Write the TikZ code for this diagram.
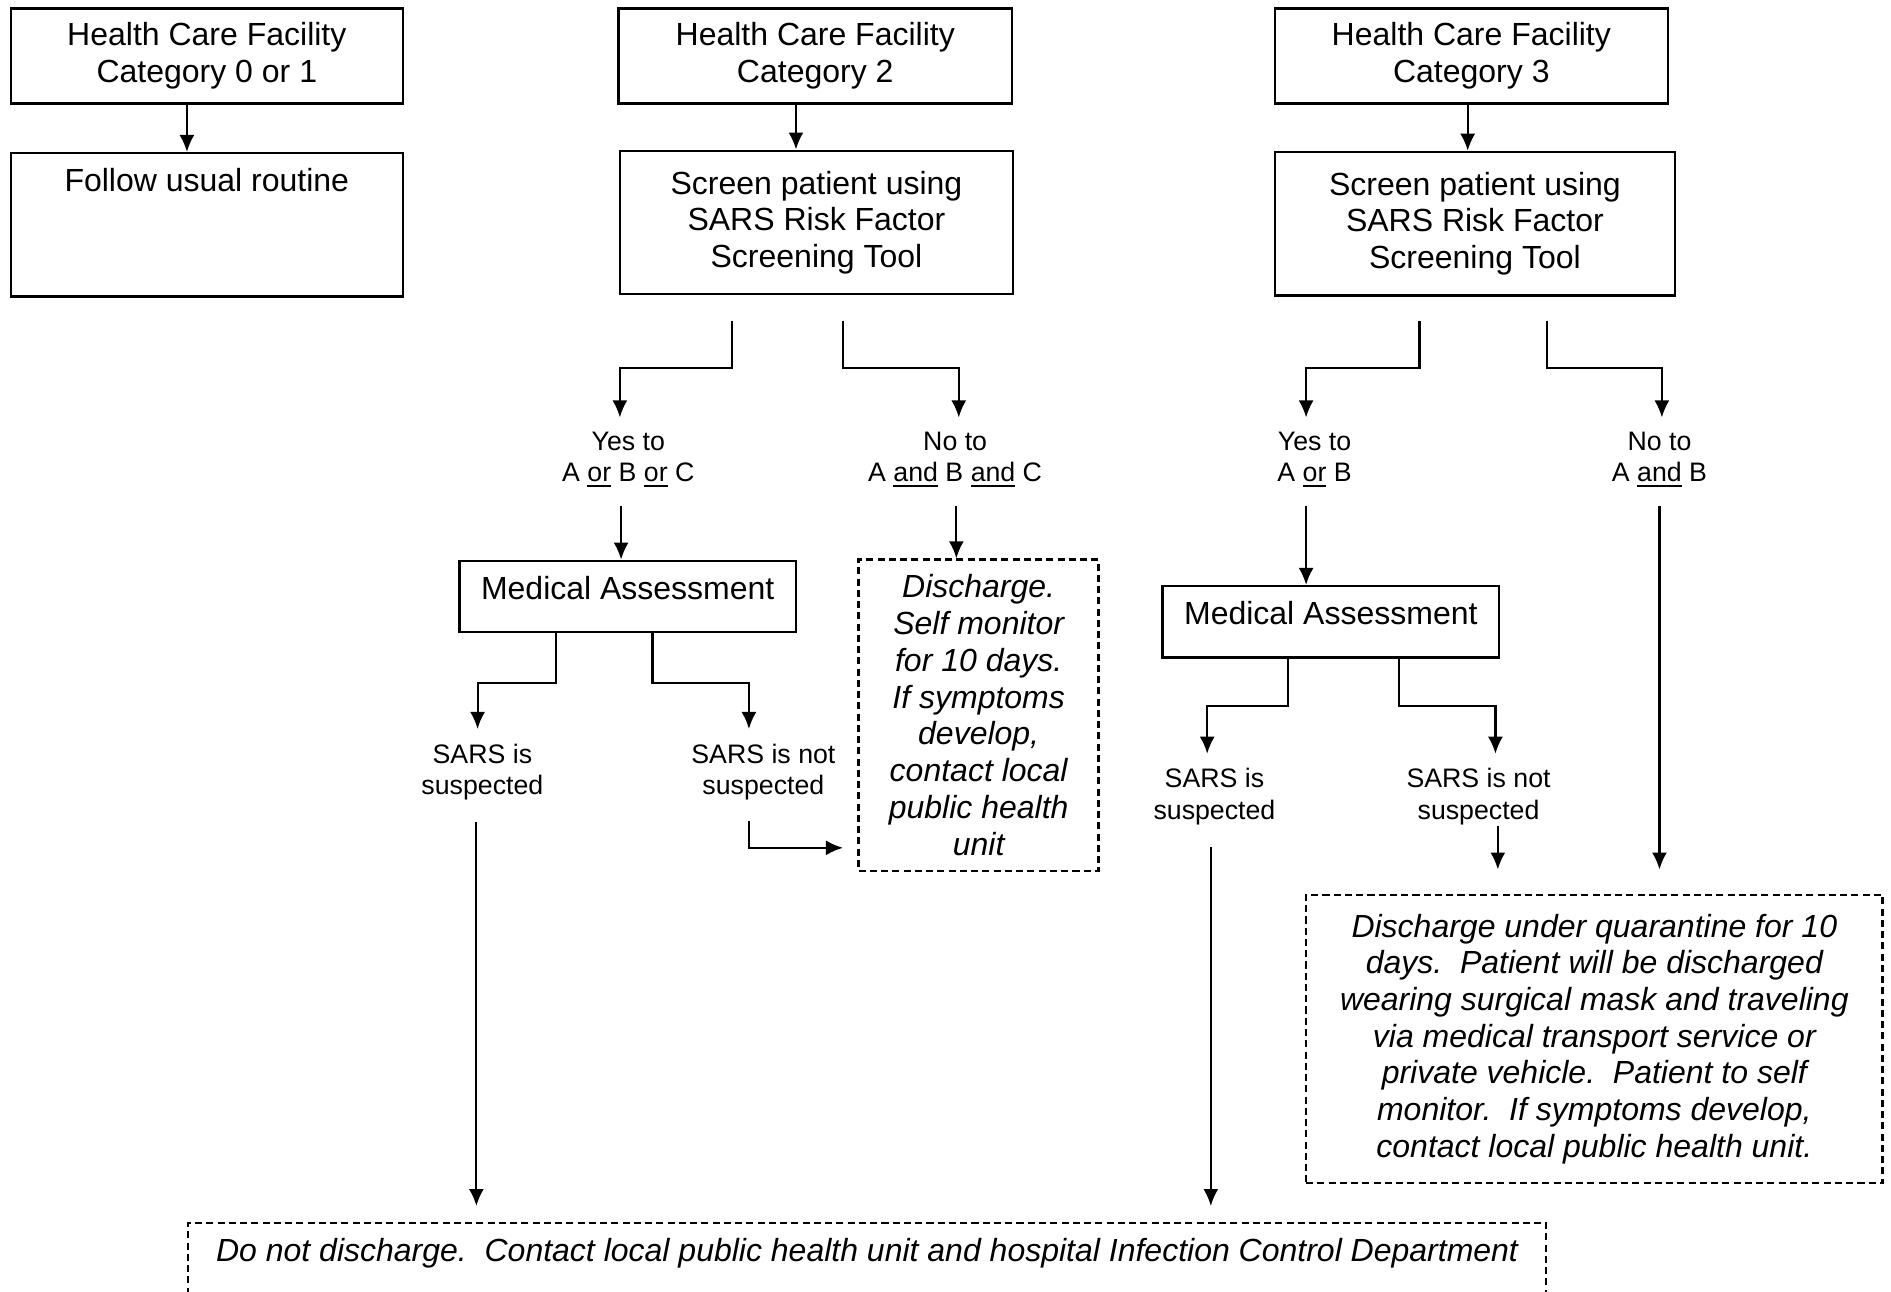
\documentclass[tikz,border=0pt]{standalone}
\usepackage{fontspec}
\setmainfont{Liberation Sans}
\usetikzlibrary{arrows.meta}
\newcommand{\px}{0.012061cm}
\newcommand{\undl}[1]{\setbox0\hbox{#1}\rlap{\vrule height -0.9pt depth 1.4pt width\wd0}\box0\relax}

\begin{document}
\begin{tikzpicture}[x=\px, y=-\px,
    box/.style={draw, line width=0.7pt, align=center, inner sep=3pt, font=\fontsize{9.1}{10.45}\selectfont},
    topbox/.style={box, text height=8pt},
    dbox/.style={box, dash pattern=on 2pt off 1.2pt, font=\fontsize{9.1}{10.45}\selectfont\itshape},
    lbl/.style={align=center, inner xsep=2pt, inner ysep=4pt, font=\fontsize{7.6}{8.9}\selectfont},
    arr/.style={-{Latex[length=1.7mm,width=1.5mm]}, line width=0.6pt}]
    \useasboundingbox (0,0) rectangle (1568,1071);

    % Category 0 or 1
    \node[box, minimum width=325*\px, minimum height=79*\px] (cat01) at (171.5,46.5) {Health Care Facility\\Category 0 or 1};
    \node[topbox, text depth=26.8pt, anchor=north, minimum width=325*\px] (follow) at (171.5,126) {Follow usual routine};
    \draw[arr] ([shift={(-16.5,0)}]cat01.south) -- ([shift={(-16.5,0)}]follow.north);

    % Category 2
    \node[box, minimum width=326*\px, minimum height=79*\px] (cat2) at (676,46.5) {Health Care Facility\\Category 2};
    \node[box, minimum width=326*\px, minimum height=119*\px] (screen2) at (677,184.5) {Screen patient using\\SARS Risk Factor\\Screening Tool};
    \node[lbl] (yes2) at (521,381) {Yes to\\A \undl{or} B \undl{or} C};
    \node[lbl] (no2) at (792,381) {No to\\A \undl{and} B \undl{and} C};
    \node[topbox, text depth=6.3pt, anchor=north, minimum width=279*\px] (med2) at (520.5,464) {Medical Assessment};
    \node[dbox, minimum width=199*\px, minimum height=258*\px] (disc2) at (811.5,593) {Discharge.\\Self monitor\\for 10 days.\\If symptoms\\develop,\\contact local\\public health\\unit};
    \node[lbl] (sus2) at (400,640) {SARS is\\suspected};
    \node[lbl] (notsus2) at (633,640) {SARS is not\\suspected};

    \draw[arr] ([shift={(-16,0)}]cat2.south) -- ([shift={(-17,0)}]screen2.north);
    \draw[arr] ([shift={(-70,21)}]screen2.south) -- ++(0,39) -| ([shift={(-7,0)}]yes2.north);
    \draw[arr] ([shift={(22,21)}]screen2.south) -- ++(0,39) -| ([shift={(3,0)}]no2.north);
    \draw[arr] ([shift={(-6,4)}]yes2.south) -- ([shift={(-5.5,0)}]med2.north);
    \draw[arr] ([shift={(1,4)}]no2.south) -- ([shift={(-18.5,0)}]disc2.north);
    \draw[arr] ([shift={(-59.5,0)}]med2.south) -- ++(0,41) -| ([shift={(-4,0)}]sus2.north);
    \draw[arr] ([shift={(20.5,0)}]med2.south) -- ++(0,41) -| ([shift={(-12,0)}]notsus2.north);
    \draw[arr] ([shift={(-12,5)}]notsus2.south) |- ([shift={(-12,110)}]disc2.west);

    % Category 3
    \node[box, minimum width=326*\px, minimum height=79*\px] (cat3) at (1220,46.5) {Health Care Facility\\Category 3};
    \node[box, minimum width=332*\px, minimum height=119*\px] (screen3) at (1223,185.5) {Screen patient using\\SARS Risk Factor\\Screening Tool};
    \node[lbl] (yes3) at (1090,381) {Yes to\\A \undl{or} B};
    \node[lbl] (no3) at (1376,381) {No to\\A \undl{and} B};
    \node[topbox, text depth=6.3pt, anchor=north, minimum width=279*\px] (med3) at (1103.5,485) {Medical Assessment};
    \node[lbl] (sus3) at (1007,660.5) {SARS is\\suspected};
    \node[lbl] (notsus3) at (1226,660.5) {SARS is not\\suspected};
    \node[dbox, minimum width=478*\px, minimum height=239*\px] (disc3) at (1322,861.5) {Discharge under quarantine for 10\\days.\ \ Patient will be discharged\\wearing surgical mask and traveling\\via medical transport service or\\private vehicle.\ \ Patient to self\\monitor.\ \ If symptoms develop,\\contact local public health unit.};

    \draw[arr] ([shift={(-3,0)}]cat3.south) -- ([shift={(-6,0)}]screen3.north);
    \draw[arr] ([shift={(-46,20)}]screen3.south) -- ++(0,39) -| ([shift={(-7,0)}]yes3.north);
    \draw[arr] ([shift={(60,20)}]screen3.south) -- ++(0,39) -| ([shift={(2,0)}]no3.north);
    \draw[arr] ([shift={(-7,4)}]yes3.south) -- ([shift={(-20.5,0)}]med3.north);
    \draw[arr] ([shift={(0,4)}]no3.south) -- ([shift={(54,-20)}]disc3.north);
    \draw[arr] ([shift={(-35.5,0)}]med3.south) -- ++(0,39) -| ([shift={(-6,0)}]sus3.north);
    \draw[arr] ([shift={(56.5,0)}]med3.south) -- ++(0,39) -| ([shift={(14,0)}]notsus3.north);
    \draw[arr] ([shift={(16,-11)}]notsus3.south) -- ([shift={(-80,-20)}]disc3.north);

    % Do not discharge
    \node[dbox, text height=8pt, text depth=40pt, anchor=north, minimum width=1126*\px] (nodis) at (719,1013) {Do not discharge.\ \ Contact local public health unit and hospital Infection Control Department};
    \draw[arr] ([shift={(-5,6)}]sus2.south) -- ([shift={(-324,-13)}]nodis.north);
    \draw[arr] ([shift={(-3,6)}]sus3.south) -- ([shift={(285,-13)}]nodis.north);
\end{tikzpicture}
\end{document}
